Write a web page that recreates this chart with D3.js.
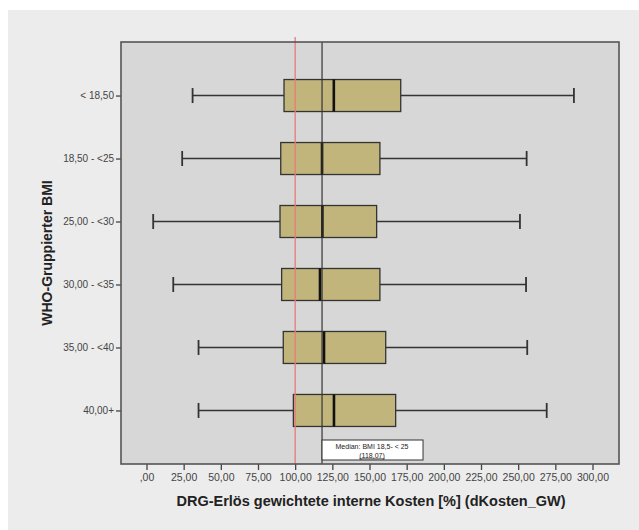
<!DOCTYPE html>
<html><head><meta charset="utf-8">
<script src="https://cdn.jsdelivr.net/npm/d3@7"></script>
<style>html,body{margin:0;padding:0;background:#fff;}svg{display:block;}</style>
</head><body>
<script>
const categories = ["< 18,50", "18,50 - <25", "25,00 - <30", "30,00 - <35", "35,00 - <40", "40,00+"];
const whiskerLow = [31, 24, 4.5, 18, 35, 35];
const q1 = [92.5, 90.3, 89.8, 90.9, 92, 98.8];
const median = [126, 118.07, 118.3, 116.7, 119.4, 126.1];
const q3 = [171, 157, 154.8, 157, 160.9, 167.6];
const whiskerHigh = [287.5, 255.7, 251.2, 255.3, 256.1, 269.2];
const xTicks = [0, 25, 50, 75, 100, 125, 150, 175, 200, 225, 250, 275, 300];
const refLine = 100;
const medianRef = 118.07;
const medianLabel = ["Median: BMI 18,5- < 25", "(118,07)"];
const xTitle = "DRG-Erlös gewichtete interne Kosten [%] (dKosten_GW)";
const yTitle = "WHO-Gruppierter BMI";

const W = 639, H = 530;
const plot = {left: 121, right: 619, top: 42, bottom: 464};
const svg = d3.select("body").append("svg").attr("width", W).attr("height", H);
const font = "Liberation Sans, Arial, sans-serif";

svg.append("rect").attr("x", 8).attr("y", 10).attr("width", W - 8).attr("height", H - 10).attr("fill", "#ececec");
svg.append("rect").attr("x", plot.left).attr("y", plot.top).attr("width", plot.right - plot.left).attr("height", plot.bottom - plot.top).attr("fill", "#d7d7d7");

const x = d3.scaleLinear().domain([0, 300]).range([146.5, 592.5]);
const y = d3.scalePoint().domain(categories).range([plot.top, plot.bottom]).padding(0.85);

const fmt = v => v === 0 ? ",00" : d3.format(".2f")(v).replace(".", ",");

// x axis
const xa = svg.append("g").attr("transform", `translate(0,${plot.bottom})`)
  .call(d3.axisBottom(x).tickValues(xTicks).tickFormat(fmt).tickSize(6).tickPadding(4));
xa.select(".domain").remove();
xa.selectAll("line").attr("stroke", "#444").attr("stroke-width", 1.3);
xa.selectAll("text").attr("font-family", font).attr("font-size", 10.5).attr("fill", "#444");

// y axis
const ya = svg.append("g").attr("transform", `translate(${plot.left},0)`)
  .call(d3.axisLeft(y).tickSize(5).tickPadding(2));
ya.select(".domain").remove();
ya.selectAll("line").attr("stroke", "#444").attr("stroke-width", 1.3);
ya.selectAll("text").attr("font-family", font).attr("font-size", 10).attr("fill", "#444");

const idx = d3.range(categories.length);
const bh = 32, cap = 15;
const g = svg.append("g");
// whiskers
g.selectAll(".wl").data(idx).join("line")
  .attr("x1", i => x(whiskerLow[i])).attr("x2", i => x(q1[i]))
  .attr("y1", i => y(categories[i])).attr("y2", i => y(categories[i]))
  .attr("stroke", "#333").attr("stroke-width", 1.5);
g.selectAll(".wh").data(idx).join("line")
  .attr("x1", i => x(q3[i])).attr("x2", i => x(whiskerHigh[i]))
  .attr("y1", i => y(categories[i])).attr("y2", i => y(categories[i]))
  .attr("stroke", "#333").attr("stroke-width", 1.5);
g.selectAll(".cl").data(idx).join("line")
  .attr("x1", i => x(whiskerLow[i])).attr("x2", i => x(whiskerLow[i]))
  .attr("y1", i => y(categories[i]) - cap / 2).attr("y2", i => y(categories[i]) + cap / 2)
  .attr("stroke", "#333").attr("stroke-width", 1.8);
g.selectAll(".ch").data(idx).join("line")
  .attr("x1", i => x(whiskerHigh[i])).attr("x2", i => x(whiskerHigh[i]))
  .attr("y1", i => y(categories[i]) - cap / 2).attr("y2", i => y(categories[i]) + cap / 2)
  .attr("stroke", "#333").attr("stroke-width", 1.8);
g.selectAll(".box").data(idx).join("rect")
  .attr("x", i => x(q1[i])).attr("width", i => x(q3[i]) - x(q1[i]))
  .attr("y", i => y(categories[i]) - bh / 2).attr("height", bh)
  .attr("fill", "#c1b57b").attr("stroke", "#333").attr("stroke-width", 1.3);

// reference lines
svg.append("line").attr("x1", x(refLine)).attr("x2", x(refLine)).attr("y1", plot.top - 5).attr("y2", plot.bottom)
  .attr("stroke", "#e97a7a").attr("stroke-width", 1.3);
svg.append("line").attr("x1", x(medianRef)).attr("x2", x(medianRef)).attr("y1", plot.top).attr("y2", plot.bottom)
  .attr("stroke", "#333").attr("stroke-width", 1.2);

g.selectAll(".med").data(idx).join("line")
  .attr("x1", i => x(median[i])).attr("x2", i => x(median[i]))
  .attr("y1", i => y(categories[i]) - bh / 2).attr("y2", i => y(categories[i]) + bh / 2)
  .attr("stroke", "#111").attr("stroke-width", 2.6);

// median annotation
const ax = x(medianRef);
svg.append("rect").attr("x", ax).attr("y", 440).attr("width", 101).attr("height", 20)
  .attr("fill", "#fff").attr("stroke", "#333").attr("stroke-width", 1);
svg.append("text").attr("x", ax + 50).attr("y", 449).attr("text-anchor", "middle")
  .attr("font-family", font).attr("font-size", 7).attr("fill", "#222").text(medianLabel[0]);
svg.append("text").attr("x", ax + 50).attr("y", 457.5).attr("text-anchor", "middle")
  .attr("font-family", font).attr("font-size", 7).attr("fill", "#222").attr("text-decoration", "underline").text(medianLabel[1]);

// plot border
svg.append("rect").attr("x", plot.left).attr("y", plot.top).attr("width", plot.right - plot.left).attr("height", plot.bottom - plot.top)
  .attr("fill", "none").attr("stroke", "#555").attr("stroke-width", 1.6);

// titles
svg.append("text").attr("x", 371).attr("y", 506).attr("text-anchor", "middle")
  .attr("font-family", font).attr("font-size", 14.5).attr("font-weight", "bold").attr("fill", "#222").text(xTitle);
svg.append("text").attr("transform", "translate(52,253) rotate(-90)").attr("text-anchor", "middle")
  .attr("font-family", font).attr("font-size", 14).attr("font-weight", "bold").attr("fill", "#222").text(yTitle);
</script>
</body></html>
